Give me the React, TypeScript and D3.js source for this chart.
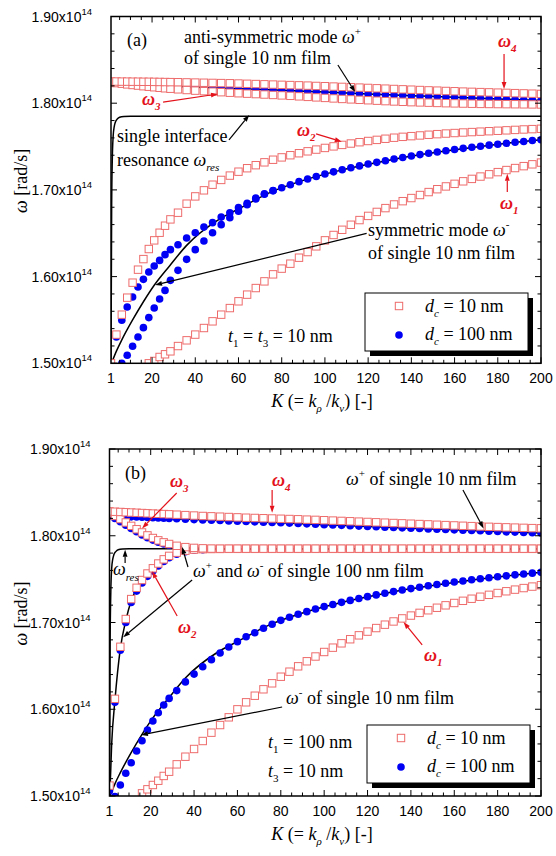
import React from "react";
import * as d3 from "d3";

// ---------- shared K grid (markers) ----------
const K_GRID = [
  1, 3.5, 6, 8.5, 11, 13.5, 16, 18.5, 21, 23.5, 26,
  28.5, 32, 36, 40, 44, 48, 52, 56, 60, 64, 68,
  72, 76, 80, 84, 88, 92, 96, 100, 104, 108, 112,
  116, 120, 124, 128, 132, 136, 140, 144, 148, 152, 156,
  160, 164, 168, 172, 176, 180, 184, 188, 192, 196, 200,
];

const X_TICK_LABELS = [1, 20, 40, 60, 80, 100, 120, 140, 160, 180, 200];
const Y_TICKS = [1.5, 1.6, 1.7, 1.8, 1.9];
const Y_TICK_LABELS = ["1.50", "1.60", "1.70", "1.80", "1.90"];

type V = number | null;

// ---------- panel (a): t1 = t3 = 10 nm ----------
// d_c = 10 nm
const A_W1: V[] = [
  null, null, null, null, null, null, null, 1.5000, 1.5027, 1.5073, 1.5104,
  1.5138, 1.5199, 1.5265, 1.5331, 1.5407, 1.5484, 1.5561, 1.5637, 1.5715, 1.5792, 1.5868,
  1.5945, 1.6026, 1.6092, 1.6149, 1.6218, 1.6283, 1.6349, 1.6418, 1.6480, 1.6540, 1.6598,
  1.6652, 1.6700, 1.6746, 1.6790, 1.6832, 1.6870, 1.6906, 1.6941, 1.6975, 1.7008, 1.7040,
  1.7070, 1.7099, 1.7127, 1.7154, 1.7180, 1.7205, 1.7229, 1.7252, 1.7274, 1.7295, 1.7315,
];
const A_W2: V[] = [
  1.5000, 1.5331, 1.5561, 1.5757, 1.5930, 1.6080, 1.6202, 1.6318, 1.6418, 1.6506, 1.6587,
  1.6660, 1.6737, 1.6841, 1.6925, 1.6995, 1.7060, 1.7115, 1.7165, 1.7210, 1.7250, 1.7285,
  1.7318, 1.7348, 1.7375, 1.7400, 1.7423, 1.7445, 1.7465, 1.7484, 1.7502, 1.7519, 1.7535,
  1.7550, 1.7564, 1.7577, 1.7590, 1.7602, 1.7612, 1.7620, 1.7628, 1.7636, 1.7643, 1.7650,
  1.7656, 1.7662, 1.7667, 1.7672, 1.7677, 1.7682, 1.7687, 1.7692, 1.7697, 1.7701, 1.7705,
];
const A_W3: V[] = [
  1.8238, 1.8232, 1.8225, 1.8217, 1.8210, 1.8203, 1.8196, 1.8190, 1.8184, 1.8178, 1.8172,
  1.8167, 1.8160, 1.8152, 1.8145, 1.8139, 1.8133, 1.8127, 1.8121, 1.8115, 1.8110, 1.8105,
  1.8100, 1.8095, 1.8090, 1.8085, 1.8079, 1.8073, 1.8067, 1.8061, 1.8055, 1.8049, 1.8044,
  1.8039, 1.8034, 1.8029, 1.8024, 1.8020, 1.8016, 1.8012, 1.8009, 1.8006, 1.8003, 1.8000,
  1.7998, 1.7996, 1.7994, 1.7992, 1.7991, 1.7990, 1.7989, 1.7988, 1.7987, 1.7986, 1.7985,
];
const A_W4: V[] = [
  1.8250, 1.8250, 1.8249, 1.8249, 1.8248, 1.8248, 1.8247, 1.8247, 1.8246, 1.8245, 1.8244,
  1.8243, 1.8242, 1.8240, 1.8238, 1.8236, 1.8234, 1.8232, 1.8230, 1.8227, 1.8224, 1.8221,
  1.8218, 1.8215, 1.8212, 1.8209, 1.8206, 1.8203, 1.8199, 1.8196, 1.8192, 1.8188, 1.8184,
  1.8180, 1.8176, 1.8172, 1.8168, 1.8164, 1.8160, 1.8156, 1.8152, 1.8148, 1.8145, 1.8141,
  1.8138, 1.8134, 1.8131, 1.8128, 1.8125, 1.8122, 1.8119, 1.8116, 1.8113, 1.8110, 1.8107,
];
// d_c = 100 nm
const A_B1: V[] = [
  null, null, 1.5000, 1.5092, 1.5196, 1.5303, 1.5411, 1.5527, 1.5637, 1.5741, 1.5841,
  1.5957, 1.6072, 1.6199, 1.6311, 1.6410, 1.6506, 1.6599, 1.6680, 1.6755, 1.6830, 1.6895,
  1.6950, 1.6990, 1.7025, 1.7060, 1.7095, 1.7125, 1.7155, 1.7183, 1.7208, 1.7232, 1.7255,
  1.7277, 1.7298, 1.7318, 1.7337, 1.7356, 1.7374, 1.7391, 1.7407, 1.7423, 1.7438, 1.7452,
  1.7466, 1.7479, 1.7492, 1.7504, 1.7516, 1.7527, 1.7538, 1.7549, 1.7559, 1.7569, 1.7578,
];
const A_B2: V[] = [
  1.4995, 1.5303, 1.5496, 1.5649, 1.5764, 1.5880, 1.5968, 1.6053, 1.6122, 1.6187, 1.6253,
  1.6311, 1.6368, 1.6445, 1.6506, 1.6571, 1.6622, 1.6686, 1.6737, 1.6795, 1.6845, 1.6905,
  1.6955, 1.6992, null, null, null, null, null, null, null, null, null,
  null, null, null, null, null, null, null, null, null, null, null,
  null, null, null, null, null, null, null, null, null, null, null,
];
const A_B3: V[] = [
  null, null, null, null, null, null, null, null, null, null, null,
  null, 1.8194, 1.8190, 1.8186, 1.8182, 1.8178, 1.8175, 1.8171, 1.8167, 1.8164, 1.8160,
  1.8157, 1.8153, 1.8150, 1.8146, 1.8141, 1.8137, 1.8132, 1.8128, 1.8124, 1.8120, 1.8115,
  1.8111, 1.8107, 1.8103, 1.8099, 1.8095, 1.8091, 1.8087, 1.8083, 1.8079, 1.8076, 1.8072,
  1.8068, 1.8064, 1.8060, 1.8057, 1.8053, 1.8049, 1.8045, 1.8042, 1.8038, 1.8035, 1.8031,
];

// ---------- panel (b): t1 = 100 nm, t3 = 10 nm ----------
const B_W1: V[] = [
  null, null, null, null, null, null, 1.5031, 1.5077, 1.5127, 1.5176, 1.5231,
  1.5280, 1.5365, 1.5453, 1.5542, 1.5634, 1.5730, 1.5818, 1.5907, 1.5999, 1.6080, 1.6156,
  1.6230, 1.6299, 1.6375, 1.6433, 1.6495, 1.6553, 1.6608, 1.6660, 1.6710, 1.6760, 1.6807,
  1.6852, 1.6895, 1.6936, 1.6975, 1.7012, 1.7047, 1.7080, 1.7111, 1.7141, 1.7170, 1.7198,
  1.7225, 1.7250, 1.7274, 1.7297, 1.7319, 1.7340, 1.7360, 1.7379, 1.7397, 1.7414, 1.7430,
];
const B_W2: V[] = [
  1.5120, 1.6120, 1.6720, 1.7040, 1.7270, 1.7400, 1.7490, 1.7565, 1.7625, 1.7680, 1.7728,
  1.7768, 1.7805, 1.7828, 1.7840, 1.7845, 1.7847, 1.7848, 1.7849, 1.7849, 1.7849, 1.7849,
  1.7849, 1.7849, 1.7849, 1.7849, 1.7849, 1.7849, 1.7849, 1.7849, 1.7849, 1.7849, 1.7849,
  1.7849, 1.7849, 1.7849, 1.7849, 1.7849, 1.7849, 1.7849, 1.7849, 1.7849, 1.7849, 1.7849,
  1.7849, 1.7849, 1.7849, 1.7849, 1.7849, 1.7849, 1.7849, 1.7849, 1.7849, 1.7849, 1.7849,
];
const B_W3: V[] = [
  1.8260, 1.8228, 1.8192, 1.8153, 1.8114, 1.8075, 1.8038, 1.8004, 1.7974, 1.7947, 1.7924,
  1.7905, 1.7884, 1.7869, 1.7860, 1.7855, 1.7852, 1.7851, 1.7851, 1.7851, 1.7851, 1.7851,
  1.7851, 1.7851, 1.7851, 1.7851, 1.7851, 1.7851, 1.7851, 1.7851, 1.7851, 1.7851, 1.7851,
  1.7851, 1.7851, 1.7851, 1.7851, 1.7851, 1.7851, 1.7851, 1.7851, 1.7851, 1.7851, 1.7851,
  1.7851, 1.7851, 1.7851, 1.7851, 1.7851, 1.7851, 1.7851, 1.7851, 1.7851, 1.7851, 1.7851,
];
const B_W4: V[] = [
  1.8280, 1.8277, 1.8274, 1.8271, 1.8268, 1.8265, 1.8262, 1.8259, 1.8256, 1.8253, 1.8250,
  1.8247, 1.8243, 1.8238, 1.8233, 1.8228, 1.8224, 1.8220, 1.8216, 1.8212, 1.8208, 1.8205,
  1.8202, 1.8199, 1.8196, 1.8193, 1.8190, 1.8186, 1.8183, 1.8179, 1.8175, 1.8171, 1.8167,
  1.8163, 1.8159, 1.8155, 1.8151, 1.8147, 1.8143, 1.8139, 1.8135, 1.8131, 1.8127, 1.8123,
  1.8119, 1.8115, 1.8111, 1.8107, 1.8103, 1.8100, 1.8097, 1.8094, 1.8091, 1.8088, 1.8086,
];
const B_B1: V[] = [
  null, 1.4995, 1.5127, 1.5262, 1.5384, 1.5519, 1.5637, 1.5761, 1.5865, 1.5960, 1.6049,
  1.6125, 1.6215, 1.6315, 1.6405, 1.6490, 1.6572, 1.6648, 1.6717, 1.6779, 1.6836, 1.6882,
  1.6933, 1.6979, 1.7025, 1.7060, 1.7095, 1.7125, 1.7155, 1.7183, 1.7208, 1.7232, 1.7255,
  1.7277, 1.7298, 1.7318, 1.7337, 1.7356, 1.7374, 1.7391, 1.7407, 1.7423, 1.7438, 1.7452,
  1.7466, 1.7479, 1.7492, 1.7504, 1.7516, 1.7527, 1.7538, 1.7549, 1.7559, 1.7569, 1.7578,
];
const B_B2: V[] = [
  1.5060, 1.6080, 1.6680, 1.7000, 1.7230, 1.7362, 1.7455, 1.7532, 1.7595, 1.7652, 1.7703,
  1.7746, 1.7788, 1.7816, 1.7832, 1.7840, 1.7844, 1.7846, 1.7847, 1.7848, 1.7848, 1.7848,
  1.7848, 1.7848, 1.7848, 1.7848, 1.7848, 1.7848, 1.7848, 1.7848, 1.7848, 1.7848, 1.7848,
  1.7848, 1.7848, 1.7848, 1.7848, 1.7848, 1.7848, 1.7848, 1.7848, 1.7848, 1.7848, 1.7848,
  1.7848, 1.7848, 1.7848, 1.7848, 1.7848, 1.7848, 1.7848, 1.7848, 1.7848, 1.7848, 1.7848,
];
const B_B3: V[] = [
  1.8235, 1.8200, 1.8162, 1.8122, 1.8083, 1.8046, 1.8010, 1.7978, 1.7950, 1.7926, 1.7906,
  1.7890, 1.7873, 1.7862, 1.7856, 1.7853, 1.7851, 1.7850, 1.7850, 1.7850, 1.7850, 1.7850,
  1.7850, 1.7850, 1.7850, 1.7850, 1.7850, 1.7850, 1.7850, 1.7850, 1.7850, 1.7850, 1.7850,
  1.7850, 1.7850, 1.7850, 1.7850, 1.7850, 1.7850, 1.7850, 1.7850, 1.7850, 1.7850, 1.7850,
  1.7850, 1.7850, 1.7850, 1.7850, 1.7850, 1.7850, 1.7850, 1.7850, 1.7850, 1.7850, 1.7850,
];
const B_B4: V[] = [
  1.8228, 1.8226, 1.8223, 1.8221, 1.8218, 1.8216, 1.8213, 1.8211, 1.8208, 1.8206, 1.8203,
  1.8200, 1.8196, 1.8190, 1.8186, 1.8182, 1.8178, 1.8175, 1.8171, 1.8167, 1.8164, 1.8160,
  1.8157, 1.8153, 1.8150, 1.8146, 1.8141, 1.8137, 1.8132, 1.8128, 1.8124, 1.8120, 1.8115,
  1.8111, 1.8107, 1.8103, 1.8099, 1.8095, 1.8091, 1.8087, 1.8083, 1.8079, 1.8076, 1.8072,
  1.8068, 1.8064, 1.8060, 1.8057, 1.8053, 1.8049, 1.8045, 1.8042, 1.8038, 1.8035, 1.8031,
];

// ---------- single-film reference curves [K, omega] ----------
type Pt = [number, number];
const OMEGA_PLUS_10: Pt[] = [
  [1, 1.8224], [20, 1.8205], [40, 1.8186], [60, 1.8167], [80, 1.815], [100, 1.8128],
  [120, 1.8107], [140, 1.8087], [160, 1.8068], [180, 1.8049], [200, 1.8031],
];
const OMEGA_MINUS_10: Pt[] = [
  [1, 1.4985], [3.5, 1.514], [6, 1.527], [11, 1.55], [16, 1.571], [21, 1.59], [28, 1.612],
  [36, 1.636], [51, 1.666], [60, 1.678], [75, 1.6975], [90, 1.711], [107, 1.7225],
  [125, 1.732], [139, 1.7385], [155, 1.7445], [170, 1.7495], [185, 1.754], [200, 1.7578],
];
const OMEGA_RES: Pt[] = [
  [1, 1.5], [1.3, 1.68], [1.6, 1.735], [2, 1.762], [2.5, 1.773], [3, 1.778], [4, 1.782],
  [5, 1.7838], [7, 1.7847], [10, 1.785], [200, 1.785],
];
const OMEGA_PLUS_100: Pt[] = [
  [1, 1.825], [3.5, 1.8215], [6, 1.8178], [8.5, 1.814], [11, 1.81], [16, 1.8025],
  [21, 1.7963], [26, 1.7916], [32, 1.7878], [40, 1.7858], [52, 1.7851], [70, 1.785], [200, 1.785],
];
const OMEGA_MINUS_100: Pt[] = [
  [1, 1.49], [2, 1.56], [3.5, 1.61], [6, 1.67], [8.5, 1.702], [11, 1.725], [16, 1.7475],
  [21, 1.761], [28.5, 1.776], [36, 1.7822], [48, 1.7845], [70, 1.7849], [200, 1.7849],
];

// ---------- styling ----------
const SERIF = "'Liberation Serif', 'Times New Roman', Times, serif";
const SANS = "'Liberation Sans', Arial, Helvetica, sans-serif";
const RED_MARK = "#ee6b6b";
const RED_TEXT = "#e3121b";
const BLUE = "#0000f5";
const SQ = 7.4;
const DOT_R = 3.8;

type Box = { x0: number; x1: number; y0: number; y1: number };
type Scales = { x: d3.ScaleLinear<number, number>; y: d3.ScaleLinear<number, number> };

function Arrow({ x1, y1, x2, y2, color = "#000" }: { x1: number; y1: number; x2: number; y2: number; color?: string }) {
  const a = Math.atan2(y2 - y1, x2 - x1);
  const len = 7;
  const w = 2.4;
  const bx = x2 - len * Math.cos(a);
  const by = y2 - len * Math.sin(a);
  const px = -Math.sin(a) * w;
  const py = Math.cos(a) * w;
  return (
    <g>
      <line x1={x1} y1={y1} x2={bx} y2={by} stroke={color} strokeWidth={1.2} />
      <path d={`M${x2},${y2}L${bx + px},${by + py}L${bx - px},${by - py}Z`} fill={color} />
    </g>
  );
}

function RedLabel({ x, y, sub }: { x: number; y: number; sub: string }) {
  return (
    <text x={x} y={y} fill={RED_TEXT} fontFamily={SERIF} fontSize={18} fontWeight="bold" fontStyle="italic">
      ω<tspan dy={5} fontSize={11}>{sub}</tspan>
    </text>
  );
}

function Legend({ x, y }: { x: number; y: number }) {
  const w = 163;
  const h = 58;
  return (
    <g fontFamily={SERIF} fontSize={18}>
      <rect x={x + 5} y={y + 5} width={w} height={h} fill="#000" />
      <rect x={x} y={y} width={w} height={h} fill="#fff" stroke="#000" strokeWidth={1} />
      <rect x={x + 34 - SQ / 2} y={y + 13 - SQ / 2} width={SQ} height={SQ} fill="#fff" stroke={RED_MARK} strokeWidth={1} />
      <circle cx={x + 34} cy={y + 42} r={DOT_R} fill={BLUE} />
      <text x={x + 60} y={y + 18.5}>
        <tspan fontStyle="italic">d</tspan>
        <tspan dy={5} fontSize={11} fontStyle="italic">c</tspan>
        <tspan dy={-5}> = 10 nm</tspan>
      </text>
      <text x={x + 60} y={y + 47}>
        <tspan fontStyle="italic">d</tspan>
        <tspan dy={5} fontSize={11} fontStyle="italic">c</tspan>
        <tspan dy={-5}> = 100 nm</tspan>
      </text>
    </g>
  );
}

function Panel({
  id, box, red, blue, lines, children,
}: {
  id: string; box: Box; red: V[][]; blue: V[][]; lines: Pt[][];
  children: (s: Scales) => React.ReactNode;
}) {
  const x = d3.scaleLinear().domain([1, 200]).range([box.x0, box.x1]);
  const y = d3.scaleLinear().domain([1.5, 1.9]).range([box.y1, box.y0]);
  const line = d3.line<Pt>().x((d) => x(d[0])).y((d) => y(d[1])).curve(d3.curveMonotoneX);
  const pts = (s: V[]) =>
    s.map((v, i) => (v == null ? null : [x(K_GRID[i]), y(v)])).filter(Boolean) as [number, number][];

  const xMinor = d3.range(5, 200, 5).filter((k) => k % 20 !== 0);
  const xMajor = d3.range(20, 201, 20);
  const yMinor = d3.range(76, 95).map((i) => i / 50).filter((v) => Math.abs(v * 10 - Math.round(v * 10)) > 0.01);
  const MAJ = 6;
  const MIN = 3.5;

  return (
    <g>
      <defs>
        <clipPath id={id}>
          <rect x={box.x0} y={box.y0} width={box.x1 - box.x0} height={box.y1 - box.y0} />
        </clipPath>
      </defs>
      <g clipPath={`url(#${id})`}>
        {lines.map((l, i) => (
          <path key={i} d={line(l) || ""} fill="none" stroke="#000" strokeWidth={1.5} />
        ))}
        {blue.map((s, i) =>
          pts(s).map(([cx, cy], j) => <circle key={`b${i}-${j}`} cx={cx} cy={cy} r={DOT_R} fill={BLUE} />)
        )}
        {red.map((s, i) =>
          pts(s).map(([cx, cy], j) => (
            <rect key={`r${i}-${j}`} x={cx - SQ / 2} y={cy - SQ / 2} width={SQ} height={SQ}
              fill="#fff" stroke={RED_MARK} strokeWidth={1} />
          ))
        )}
      </g>
      {/* ticks, inward on all four sides */}
      <g stroke="#000" strokeWidth={1}>
        {xMajor.map((k) => (
          <g key={`xM${k}`}>
            <line x1={x(k)} x2={x(k)} y1={box.y1} y2={box.y1 - MAJ} />
            <line x1={x(k)} x2={x(k)} y1={box.y0} y2={box.y0 + MAJ} />
          </g>
        ))}
        {xMinor.map((k) => (
          <g key={`xm${k}`}>
            <line x1={x(k)} x2={x(k)} y1={box.y1} y2={box.y1 - MIN} />
            <line x1={x(k)} x2={x(k)} y1={box.y0} y2={box.y0 + MIN} />
          </g>
        ))}
        {Y_TICKS.map((v) => (
          <g key={`yM${v}`}>
            <line x1={box.x0} x2={box.x0 + MAJ} y1={y(v)} y2={y(v)} />
            <line x1={box.x1} x2={box.x1 - MAJ} y1={y(v)} y2={y(v)} />
          </g>
        ))}
        {yMinor.map((v) => (
          <g key={`ym${v}`}>
            <line x1={box.x0} x2={box.x0 + MIN} y1={y(v)} y2={y(v)} />
            <line x1={box.x1} x2={box.x1 - MIN} y1={y(v)} y2={y(v)} />
          </g>
        ))}
      </g>
      <rect x={box.x0} y={box.y0} width={box.x1 - box.x0} height={box.y1 - box.y0}
        fill="none" stroke="#000" strokeWidth={1.5} />
      {/* tick labels */}
      <g fontFamily={SANS} fontSize={14} fill="#000">
        {X_TICK_LABELS.map((k) => (
          <text key={`xl${k}`} x={x(k)} y={box.y1 + 20} textAnchor="middle">{k}</text>
        ))}
        {Y_TICKS.map((v, i) => (
          <text key={`yl${v}`} x={box.x0 - 19} y={y(v) + 5} textAnchor="end">
            {Y_TICK_LABELS[i]}x10<tspan dy={-7} fontSize={9.5}>14</tspan>
          </text>
        ))}
      </g>
      {/* axis titles */}
      <g fontFamily={SERIF} fontSize={18}>
        <text x={322} y={box.y1 + 44} textAnchor="middle">
          <tspan fontStyle="italic">K</tspan> (= <tspan fontStyle="italic">k</tspan>
          <tspan dy={5} fontSize={11} fontStyle="italic">ρ</tspan>
          <tspan dy={-5}> /</tspan><tspan fontStyle="italic">k</tspan>
          <tspan dy={5} fontSize={11} fontStyle="italic">v</tspan>
          <tspan dy={-5}>) [-]</tspan>
        </text>
        <text transform={`translate(27, ${(box.y0 + box.y1) / 2 - 9}) rotate(-90)`} textAnchor="middle">
          <tspan fontStyle="italic">ω</tspan> [rad/s]
        </text>
      </g>
      {children({ x, y })}
    </g>
  );
}

export default function App() {
  const serif = { fontFamily: SERIF, fontSize: 18 } as const;
  return (
    <svg width={556} height={856} style={{ position: "fixed", left: 0, top: 0, background: "#fff" }}>
      <rect width={556} height={856} fill="#fff" />

      <Panel id="clipA" box={{ x0: 111, x1: 541, y0: 16.5, y1: 363.3 }}
        red={[A_W1, A_W2, A_W3, A_W4]} blue={[A_B1, A_B2, A_B3]}
        lines={[OMEGA_PLUS_10, OMEGA_MINUS_10, OMEGA_RES]}>
        {({ x, y }) => (
          <g>
            <text x={127} y={46} {...serif}>(a)</text>
            <text x={184} y={43} {...serif}>
              anti-symmetric mode <tspan fontStyle="italic">ω</tspan><tspan dy={-8} fontSize={11}>+</tspan>
            </text>
            <text x={184} y={64} {...serif}>of single 10 nm film</text>
            <Arrow x1={x(106)} y1={y(1.8441)} x2={x(114)} y2={y(1.8128)} />

            <text x={117} y={142} {...serif}>single interface</text>
            <text x={117} y={166} {...serif}>
              resonance <tspan fontStyle="italic">ω</tspan><tspan dy={5} fontSize={11} fontStyle="italic">res</tspan>
            </text>
            <Arrow x1={x(55.6)} y1={y(1.7577)} x2={x(65)} y2={y(1.7865)} />

            <text x={368} y={236} {...serif}>
              symmetric mode <tspan fontStyle="italic">ω</tspan><tspan dy={-8} fontSize={11}>-</tspan>
            </text>
            <text x={368} y={259} {...serif}>of single 10 nm film</text>
            <Arrow x1={x(119.3)} y1={y(1.6499)} x2={x(21.4)} y2={y(1.5903)} />

            <RedLabel x={142} y={105} sub="3" />
            <Arrow x1={x(25.1)} y1={y(1.8013)} x2={x(50.5)} y2={y(1.8106)} color={RED_TEXT} />
            <RedLabel x={498} y={47} sub="4" />
            <Arrow x1={x(182.9)} y1={y(1.8567)} x2={x(182.9)} y2={y(1.8164)} color={RED_TEXT} />
            <RedLabel x={297} y={136} sub="2" />
            <Arrow x1={x(95.9)} y1={y(1.7646)} x2={x(107.8)} y2={y(1.7556)} color={RED_TEXT} />
            <RedLabel x={500} y={209} sub="1" />
            <Arrow x1={x(184.4)} y1={y(1.6976)} x2={x(184.4)} y2={y(1.7185)} color={RED_TEXT} />

            <text x={228} y={342} {...serif}>
              <tspan fontStyle="italic">t</tspan><tspan dy={5} fontSize={11}>1</tspan>
              <tspan dy={-5}> = </tspan><tspan fontStyle="italic">t</tspan>
              <tspan dy={5} fontSize={11}>3</tspan><tspan dy={-5}> = 10 nm</tspan>
            </text>
            <Legend x={365} y={293} />
          </g>
        )}
      </Panel>

      <Panel id="clipB" box={{ x0: 109.5, x1: 541, y0: 449, y1: 796 }}
        red={[B_W1, B_W2, B_W3, B_W4]} blue={[B_B1, B_B2, B_B3, B_B4]}
        lines={[OMEGA_PLUS_10, OMEGA_MINUS_10, OMEGA_RES, OMEGA_PLUS_100, OMEGA_MINUS_100]}>
        {({ x, y }) => (
          <g>
            <text x={125} y={479} {...serif}>(b)</text>

            <RedLabel x={170} y={487} sub="3" />
            <Arrow x1={x(32)} y1={y(1.8493)} x2={x(16)} y2={y(1.8085)} color={RED_TEXT} />
            <RedLabel x={272} y={486} sub="4" />
            <Arrow x1={x(76)} y1={y(1.8527)} x2={x(76)} y2={y(1.8265)} color={RED_TEXT} />

            <text x={346} y={485} {...serif}>
              <tspan fontStyle="italic">ω</tspan><tspan dy={-8} fontSize={11}>+</tspan>
              <tspan dy={8}> of single 10 nm film</tspan>
            </text>
            <Arrow x1={x(164)} y1={y(1.8527)} x2={x(173.5)} y2={y(1.8085)} />

            <text x={113} y={575} {...serif}>
              <tspan fontStyle="italic">ω</tspan><tspan dy={6} fontSize={11} fontStyle="italic">res</tspan>
            </text>
            <Arrow x1={x(8.2)} y1={y(1.7685)} x2={x(8.2)} y2={y(1.7838)} />

            <text x={193} y={577} {...serif}>
              <tspan fontStyle="italic">ω</tspan><tspan dy={-8} fontSize={11}>+</tspan>
              <tspan dy={8}> and </tspan><tspan fontStyle="italic">ω</tspan>
              <tspan dy={-8} fontSize={11}>-</tspan>
              <tspan dy={8}> of single 100 nm film</tspan>
            </text>
            <Arrow x1={x(37.2)} y1={y(1.764)} x2={x(34.5)} y2={y(1.787)} />
            <Arrow x1={x(39.1)} y1={y(1.749)} x2={x(7.3)} y2={y(1.683)} />

            <RedLabel x={178} y={633} sub="2" />
            <Arrow x1={x(32.2)} y1={y(1.7075)} x2={x(20.6)} y2={y(1.759)} color={RED_TEXT} />
            <RedLabel x={424} y={661} sub="1" />
            <Arrow x1={x(145.2)} y1={y(1.6741)} x2={x(136.6)} y2={y(1.7005)} color={RED_TEXT} />

            <text x={286} y={704} {...serif}>
              <tspan fontStyle="italic">ω</tspan><tspan dy={-8} fontSize={11}>-</tspan>
              <tspan dy={8}> of single 10 nm film</tspan>
            </text>
            <Arrow x1={x(80.6)} y1={y(1.6026)} x2={x(15.5)} y2={y(1.5703)} />

            <text x={268} y={748} {...serif}>
              <tspan fontStyle="italic">t</tspan><tspan dy={5} fontSize={11}>1</tspan>
              <tspan dy={-5}> = 100 nm</tspan>
            </text>
            <text x={268} y={777} {...serif}>
              <tspan fontStyle="italic">t</tspan><tspan dy={5} fontSize={11}>3</tspan>
              <tspan dy={-5}> = 10 nm</tspan>
            </text>
            <Legend x={367} y={725} />
          </g>
        )}
      </Panel>
    </svg>
  );
}
